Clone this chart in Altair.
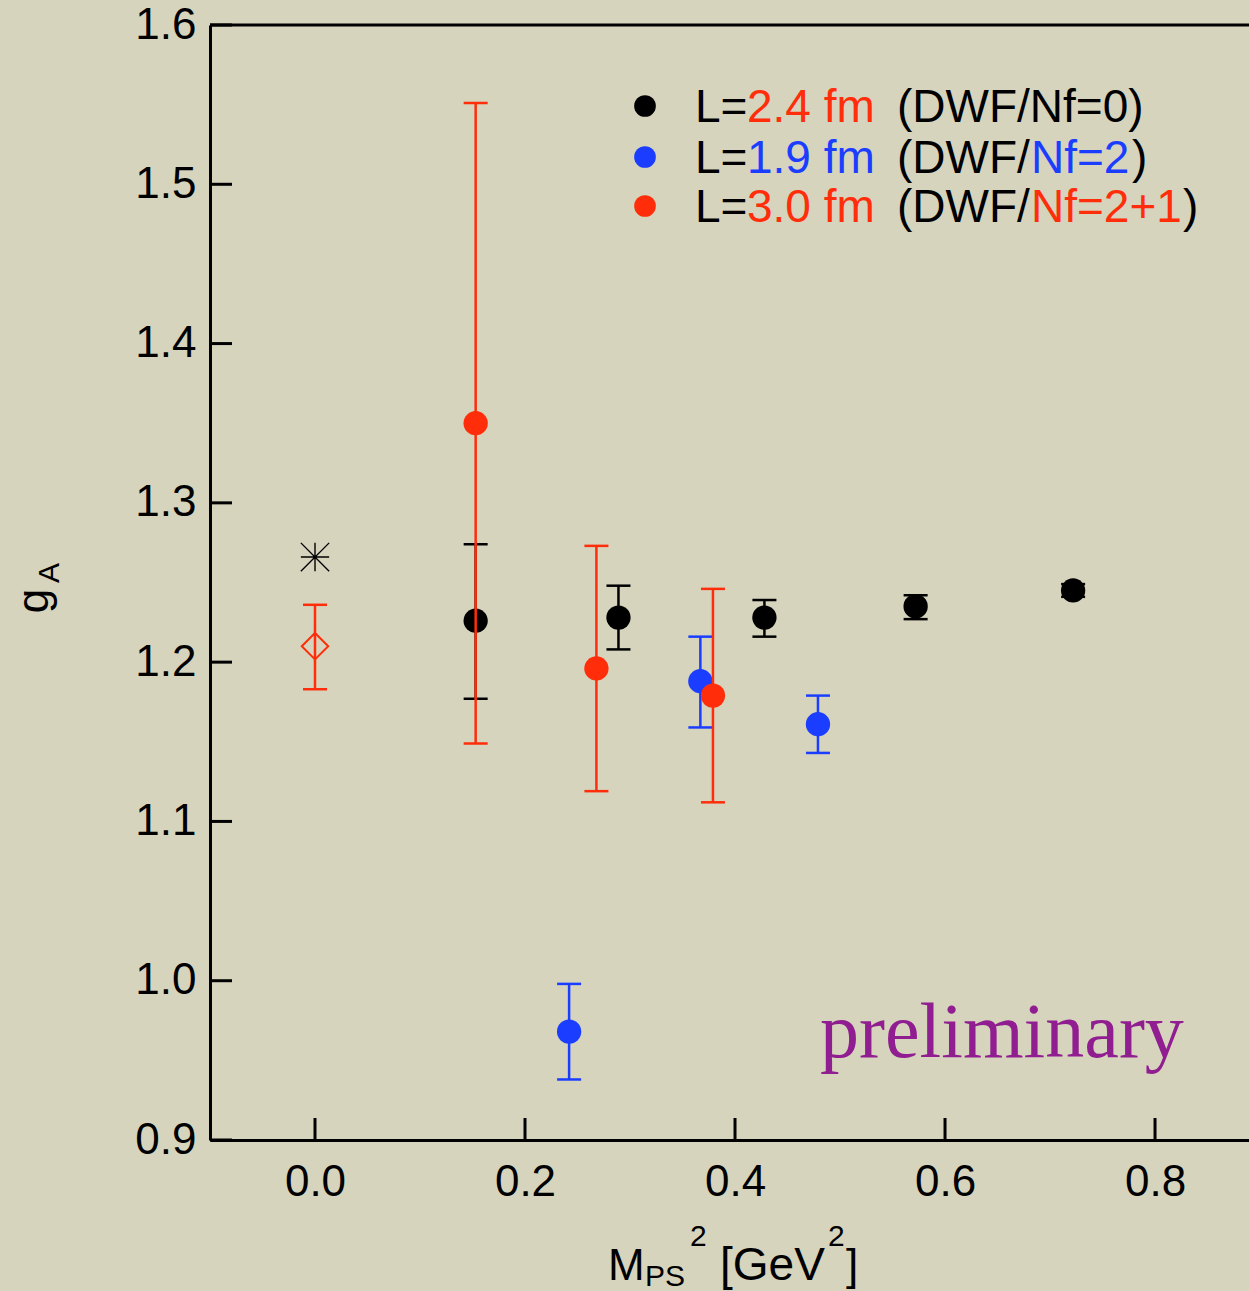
import altair as alt
import pandas as pd

# ---- data ----
nf0_x = [0.153, 0.289, 0.428, 0.572, 0.722]
nf0_y = [1.226, 1.228, 1.228, 1.235, 1.245]
nf0_lo = [1.177, 1.208, 1.216, 1.227, 1.241]
nf0_hi = [1.274, 1.248, 1.239, 1.242, 1.249]

nf2_x = [0.242, 0.367, 0.479]
nf2_y = [0.968, 1.188, 1.161]
nf2_lo = [0.938, 1.159, 1.143]
nf2_hi = [0.998, 1.216, 1.179]

nf21_x = [0.153, 0.268, 0.379]
nf21_y = [1.350, 1.196, 1.179]
nf21_lo = [1.149, 1.119, 1.112]
nf21_hi = [1.551, 1.273, 1.246]

exp_x = [0.0]
exp_y = [1.266]
diam_x = [0.0]
diam_y = [1.210]
diam_lo = [1.183]
diam_hi = [1.236]

x_ticks = [0.0, 0.2, 0.4, 0.6, 0.8]
y_ticks = [0.9, 1.0, 1.1, 1.2, 1.3, 1.4, 1.5, 1.6]

BLACK = "#000000"
BLUE = "#1A3DFF"
RED = "#FF2D0A"
PURPLE = "#911E91"
BG = "#D6D4BD"
FONT = "Liberation Sans"

W, H = 1039, 1115
xs = alt.Scale(domain=[-0.1, 0.8895], nice=False, zero=False)
ys = alt.Scale(domain=[0.9, 1.6], nice=False, zero=False)

XAX = alt.Axis(values=x_ticks, format=".1f", title=None, ticks=False,
               grid=False, labelFontSize=44, labelFont=FONT, labelColor="black",
               labelPadding=20, domainColor="black", domainWidth=3)
YAX = alt.Axis(values=y_ticks, format=".1f", title=None, ticks=False,
               grid=False, labelFontSize=44, labelFont=FONT, labelColor="black",
               labelPadding=14, domainColor="black", domainWidth=3)


def XF(field):
    return alt.X(f"{field}:Q", scale=xs, axis=XAX)


def YF(field):
    return alt.Y(f"{field}:Q", scale=ys, axis=YAX)


def series(xv, yv, lo, hi):
    return pd.DataFrame({"x": xv, "y": yv, "lo": lo, "hi": hi})


d0 = series(nf0_x, nf0_y, nf0_lo, nf0_hi)
d2 = series(nf2_x, nf2_y, nf2_lo, nf2_hi)
d21 = series(nf21_x, nf21_y, nf21_lo, nf21_hi)
dd = series(diam_x, diam_y, diam_lo, diam_hi)
de = pd.DataFrame({"x": exp_x, "y": exp_y})


def errbars(df, color):
    rule = alt.Chart(df).mark_rule(color=color, strokeWidth=2.5).encode(
        x=XF("x"), y=YF("lo"), y2="hi:Q")
    cap_lo = alt.Chart(df).mark_tick(color=color, orient="horizontal", size=24, thickness=2.5,
                                     opacity=1).encode(x=XF("x"), y=YF("lo"))
    cap_hi = alt.Chart(df).mark_tick(color=color, orient="horizontal", size=24, thickness=2.5,
                                     opacity=1).encode(x=XF("x"), y=YF("hi"))
    return [rule, cap_lo, cap_hi]


def dots(df, color):
    return alt.Chart(df).mark_circle(color=color, opacity=1, size=590).encode(x=XF("x"), y=YF("y"))


layers = []
layers += errbars(d0, BLACK) + [dots(d0, BLACK)]
layers += errbars(d2, BLUE) + [dots(d2, BLUE)]
layers += errbars(d21, RED) + [dots(d21, RED)]
layers += errbars(dd, RED)
layers.append(alt.Chart(dd).mark_point(shape="diamond", color=RED, filled=False,
                                        strokeWidth=2, size=700, opacity=1).encode(x=XF("x"), y=YF("y")))
layers.append(alt.Chart(de).mark_point(
    shape="M-1,0L1,0M0,-1L0,1M-1,-1L1,1M-1,1L1,-1", color=BLACK, filled=False,
    strokeWidth=1.4, size=800, opacity=1).encode(x=XF("x"), y=YF("y")))

# inward ticks
layers.append(alt.Chart(pd.DataFrame({"t": y_ticks})).mark_rule(color="black", strokeWidth=3).encode(
    y=YF("t"), x=alt.value(0), x2=alt.value(22)))
layers.append(alt.Chart(pd.DataFrame({"t": x_ticks})).mark_rule(color="black", strokeWidth=3).encode(
    x=XF("t"), y=alt.value(H), y2=alt.value(H - 22)))
one = pd.DataFrame({"a": [0]})
layers.append(alt.Chart(one).mark_rule(color="black", strokeWidth=3).encode(
    x=alt.value(0), x2=alt.value(W), y=alt.value(0)))


def txt(s, x, y, color="black", size=46, font=FONT, angle=0, align="left", baseline="alphabetic"):
    return alt.Chart(one).mark_text(text=s, color=color, fontSize=size, font=font, angle=angle,
                                    align=align, baseline=baseline).encode(
        x=alt.value(x), y=alt.value(y))


# legend (plot coordinates)
leg_dots = [(81, BLACK), (132, BLUE), (181, RED)]
for yy, c in leg_dots:
    layers.append(alt.Chart(one).mark_circle(color=c, opacity=1, size=470).encode(
        x=alt.value(435), y=alt.value(yy)))

leg_pieces = [
    ("L=", 485, 97, BLACK), ("2.4 fm", 537, 97, RED), ("(DWF/Nf=0)", 687, 97, BLACK),
    ("L=", 485, 148, BLACK), ("1.9 fm", 537, 148, BLUE), ("(DWF/", 687, 148, BLACK),
    ("Nf=2", 821, 148, BLUE), (")", 922, 148, BLACK),
    ("L=", 485, 197, BLACK), ("3.0 fm", 537, 197, RED), ("(DWF/", 687, 197, BLACK),
    ("Nf=2+1", 821, 197, RED), (")", 973, 197, BLACK),
]
for s, x, y, c in leg_pieces:
    layers.append(txt(s, x, y, color=c))

# preliminary
layers.append(txt("preliminary", 610, 1032, color=PURPLE, size=78, font="Liberation Serif"))

# axis titles
layers.append(txt("M", 398, 1255, size=44))
layers.append(txt("PS", 435, 1261, size=30))
layers.append(txt("2", 480, 1221, size=30))
layers.append(txt("[GeV", 510, 1255, size=46))
layers.append(txt("2", 618, 1221, size=30))
layers.append(txt("]", 636, 1255, size=44))

layers.append(txt("g", -175, 576, size=44, angle=270, align="center", baseline="middle"))
layers.append(txt("A", -160, 548, size=30, angle=270, align="center", baseline="middle"))

chart = alt.layer(*layers).properties(
    width=W, height=H,
    padding={"left": 210, "top": 25, "right": 0, "bottom": 151},
    autosize=alt.AutoSizeParams(type="none"),
    background=BG,
).configure_view(stroke=None)

chart.save("out.html", embed_options={"renderer": "svg", "actions": False})
